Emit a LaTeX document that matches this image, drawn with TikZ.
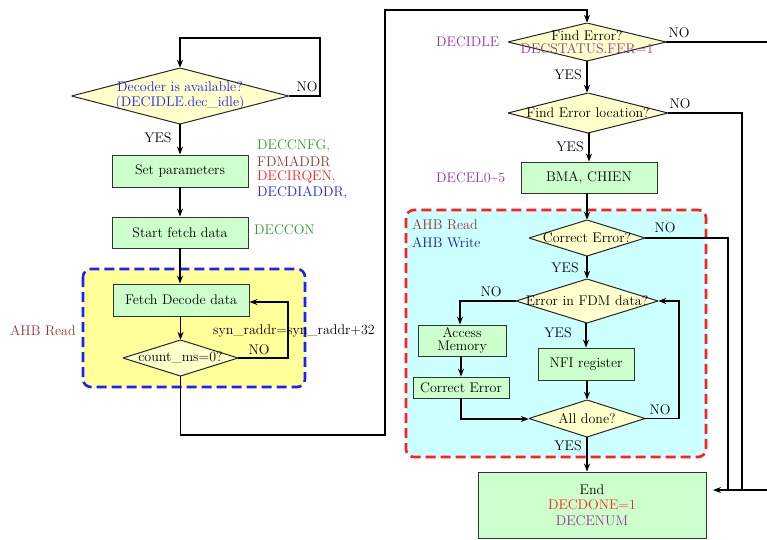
\documentclass[tikz,border=0pt]{standalone}
\usepackage{tikz}
\usetikzlibrary{shapes.geometric,arrows.meta}
\definecolor{boxg}{HTML}{CCFFCC}
\definecolor{decy}{HTML}{FFFFCC}
\definecolor{yelbg}{HTML}{FFFF99}
\definecolor{cyanbg}{HTML}{CCFFFF}
\definecolor{purp}{HTML}{993399}
\definecolor{dred}{HTML}{993333}
\definecolor{dgreen}{HTML}{2E9B2E}
\definecolor{bred}{HTML}{FF2020}
\definecolor{bblue}{HTML}{2020FF}
\definecolor{dblue}{HTML}{1A1A99}
\begin{document}
\begin{tikzpicture}[x=1pt,y=-1pt,
  font=\fontsize{14}{15.5}\selectfont,
  proc/.style={rectangle, draw=black!80, fill=boxg, line width=0.9pt, inner sep=0pt, align=center},
  dec/.style={rectangle, inner sep=0pt, align=center,
    path picture={\draw[line width=1pt, draw=black!85, fill=decy]
      (path picture bounding box.north) -- (path picture bounding box.east) --
      (path picture bounding box.south) -- (path picture bounding box.west) -- cycle;}},
  arr/.style={-{Stealth[length=8pt,width=6pt]}, line width=1.1pt},
  ln/.style={line width=1.1pt},
  lbl/.style={inner sep=0pt}]
\useasboundingbox (0,0) rectangle (767,539);
\clip (0,0) rectangle (767,539);
% regions
\draw[bblue, line width=2.6pt, dash pattern=on 10pt off 5pt, rounded corners=8pt, fill=yelbg] (83,269) rectangle (305,387);
\draw[bred, line width=2.6pt, dash pattern=on 10pt off 5pt, rounded corners=8pt, fill=cyanbg] (406,210) rectangle (706,457);
% left column nodes
\node[dec, minimum width=217pt, minimum height=56pt, text=bblue] (avail) at (180,96) {Decoder is available?\\(DECIDLE.dec\_idle)};
\node[proc, minimum width=136pt, minimum height=32pt] (setp) at (180,171) {Set parameters};
\node[proc, minimum width=136pt, minimum height=31pt] (start) at (180,232.5) {Start fetch data};
\node[proc, minimum width=136pt, minimum height=32pt] (fetch) at (181,300) {Fetch Decode data};
\node[dec, minimum width=115pt, minimum height=36pt] (count) at (180.5,358) {count\_ms=0?};
% right column nodes
\node[dec, minimum width=158pt, minimum height=38pt] (ferr) at (587,42) {Find Error?\\[-3pt]\textcolor{purp}{DECSTATUS.FER=1}};
\node[dec, minimum width=160pt, minimum height=40pt] (floc) at (588,113) {Find Error location?};
\node[proc, minimum width=136pt, minimum height=31pt] (bma) at (589,177.5) {BMA, CHIEN};
\node[dec, minimum width=116pt, minimum height=36pt] (cerr) at (587,238) {Correct Error?};
\node[dec, minimum width=142pt, minimum height=44pt] (fdm) at (587,301) {Error in FDM data?};
\node[proc, minimum width=88pt, minimum height=31pt, text width=86pt] (acc) at (462,340.5) {Access\\[-2pt]Memory};
\node[proc, minimum width=96pt, minimum height=21pt] (corr) at (461,387.5) {Correct Error};
\node[proc, minimum width=96pt, minimum height=32pt] (nfi) at (586,364) {NFI register};
\node[dec, minimum width=116pt, minimum height=37pt] (done) at (587,418.5) {All done?};
\node[proc, minimum width=228pt, minimum height=66pt] (end) at (592,505) {End\\\textcolor{bred}{DECDONE=1}\\\textcolor{purp}{DECENUM}};
% side labels
\node[lbl, anchor=west, text=dgreen] at (257,146) {DECCNFG,};
\node[lbl, anchor=west, text=dred] at (257,161.5) {FDMADDR};
\node[lbl, anchor=west, text=bred] at (257,177) {DECIRQEN,};
\node[lbl, anchor=west, text=bblue] at (257,192.5) {DECDIADDR,};
\node[lbl, anchor=west, text=dgreen] at (254,230) {DECCON};
\node[lbl, anchor=west, text=dred] at (10,331) {AHB Read};
\node[lbl, anchor=west, text=purp] at (436,42) {DECIDLE};
\node[lbl, anchor=west, text=purp] at (436,178) {DECEL0\textasciitilde5};
\node[lbl, anchor=west, text=dred] at (412,225) {AHB Read};
\node[lbl, anchor=west, text=dblue] at (412,243) {AHB Write};
% left connectors
\coordinate (loopr) at (320,38);
\draw[arr] (avail.east) -- (320,96) -- (loopr) -- (180,38) -- (avail.north);
\node[lbl] at (307,87) {NO};
\draw[arr] (avail.south) -- (setp.north);
\node[lbl] at (158,138) {YES};
\draw[arr] (setp.south) -- (start.north);
\draw[arr] (start.south) -- (fetch.north -| start.south);
\draw[arr] (fetch.south -| count.north) -- (count.north);
\draw[arr] (count.east) -- (288,358) -- (288,302) -- (fetch.east |- 0,302);
\node[lbl] at (259,350) {NO};
\node[lbl, anchor=west] at (213,331) {syn\_raddr=syn\_raddr+32};
\draw[arr] (count.south) -- (180.5,435) -- (385,435) -- (385,10) -- (587,10) -- (ferr.north);
% right connectors
\draw[ln] (ferr.east) -- (780,42);
\node[lbl] at (679,33) {NO};
\draw[arr] (ferr.south) -- (floc.north -| ferr.south);
\node[lbl] at (568,75) {YES};
\draw[ln] (floc.east) -- (742,113) -- (742,490);
\node[lbl] at (680,104) {NO};
\draw[arr] (floc.south -| bma.north) -- (bma.north);
\node[lbl] at (570,147) {YES};
\draw[arr] (bma.south -| cerr.north) -- (cerr.north);
\draw[ln] (cerr.east) -- (728,238) -- (728,490);
\node[lbl] at (665,228) {NO};
\draw[arr] (cerr.south) -- (fdm.north);
\node[lbl] at (565,268) {YES};
\draw[arr] (fdm.west) -- (460,301) -- (acc.north -| 460,0);
\node[lbl] at (491,292) {NO};
\draw[arr] (acc.south -| 461,0) -- (corr.north);
\draw[arr] (corr.south) -- (461,419) -- (done.west |- 0,419);
\draw[arr] (fdm.south -| nfi.north) -- (nfi.north);
\node[lbl] at (558,333) {YES};
\draw[arr] (nfi.south -| done.north) -- (done.north);
\draw[arr] (done.east) -- (679,418.5) -- (679,301) -- (fdm.east);
\node[lbl] at (660,410) {NO};
\draw[arr] (done.south) -- (end.north -| done.south);
\node[lbl] at (568,446) {YES};
\coordinate (endin) at (713,490);
\draw[arr] (780,490) -- (endin);
\end{tikzpicture}
\end{document}
